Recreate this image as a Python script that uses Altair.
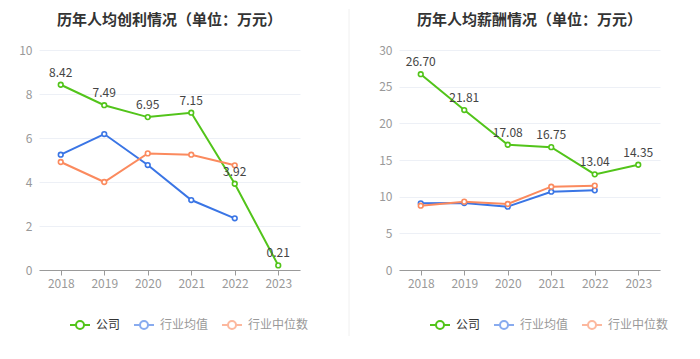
import altair as alt
import pandas as pd

years = ["2018", "2019", "2020", "2021", "2022", "2023"]
series_names = ["公司", "行业均值", "行业中位数"]
colors = ["#52c41a", "#3a75e5", "#fb8a5e"]

profit_company = [8.42, 7.49, 6.95, 7.15, 3.92, 0.21]
profit_mean = [5.24, 6.18, 4.77, 3.18, 2.35, None]
profit_median = [4.91, 4.00, 5.30, 5.24, 4.76, None]

salary_company = [26.70, 21.81, 17.08, 16.75, 13.04, 14.35]
salary_mean = [9.09, 9.13, 8.64, 10.68, 10.86, None]
salary_median = [8.77, 9.32, 9.00, 11.36, 11.50, None]

FONT = "Noto Sans CJK SC"


def long_df(comp, mean, med):
    rows = []
    for name, vals in zip(series_names, [comp, mean, med]):
        for y, v in zip(years, vals):
            if v is not None:
                rows.append({"year": y, "series": name, "value": v})
    return pd.DataFrame(rows)


SYMBOL = "M-1,0H-0.4M0.4,0H1M0.4,0A0.4,0.4,0,1,1,-0.4,0A0.4,0.4,0,1,1,0.4,0"


def panel(df, title, ymax, yvalues):
    x = alt.X(
        "year:O",
        scale=alt.Scale(type="point", domain=years, padding=0.5),
        axis=alt.Axis(
            title=None, labelAngle=0, domainColor="#9a9a9a", tickColor="#9a9a9a",
            tickSize=5, labelColor="#999999", labelFontSize=12, labelPadding=3,
            grid=False, labelFont=FONT,
        ),
    )
    y = alt.Y(
        "value:Q",
        scale=alt.Scale(domain=[0, ymax], nice=False),
        axis=alt.Axis(
            title=None, domain=False, ticks=False, values=yvalues,
            gridColor="#edf0f6", labelColor="#999999", labelFontSize=12,
            labelPadding=7, labelFont=FONT,
        ),
    )
    color = alt.Color(
        "series:N",
        scale=alt.Scale(domain=series_names, range=colors),
        sort=series_names,
        legend=alt.Legend(
            title=None, orient="none", direction="horizontal",
            legendX=30, legendY=264,
            symbolType=SYMBOL, symbolSize=400, symbolStrokeWidth=2,
            symbolFillColor="white",
            labelFontSize=12, labelFont=FONT, labelOffset=5, columnPadding=9,
            labelColor={"expr": "datum.value === '公司' ? '#333333' : '#999999'"},
            symbolOpacity={"expr": "datum.value === '公司' ? 1 : 0.6"},
        ),
    )
    base = alt.Chart(df)
    line = base.mark_line(strokeWidth=2).encode(x=x, y=y, color=color)
    pts = base.mark_point(shape="circle", filled=False, fill="white", size=22,
                          strokeWidth=1.6, opacity=1).encode(x=x, y=y, color=color)
    labels = base.transform_filter(alt.datum.series == "公司").mark_text(
        dy=-12, fontSize=12, color="#444444", font=FONT
    ).encode(x=x, y=y, text=alt.Text("value:Q", format=".2f"))
    return alt.layer(line, pts, labels).properties(
        width=261, height=220,
        title=alt.TitleParams(title, fontSize=15, fontWeight="bold", color="#333333",
                              font=FONT, anchor="middle", offset=16),
    )


left = panel(long_df(profit_company, profit_mean, profit_median),
             "历年人均创利情况（单位：万元）", 10, [0, 2, 4, 6, 8, 10])
right = panel(long_df(salary_company, salary_mean, salary_median),
              "历年人均薪酬情况（单位：万元）", 30, [0, 5, 10, 15, 20, 25, 30])

sep = alt.Chart(pd.DataFrame({"a": [0]})).mark_rule(color="#f0f0f0", strokeWidth=1).encode(
    x=alt.value(0), y=alt.value(-41), y2=alt.value(286)
).properties(width=1, height=220)

chart = alt.hconcat(left, sep, right, spacing=49, bounds="flush").resolve_scale(
    color="independent"
).resolve_legend(color="independent").properties(
    padding={"left": 10, "top": 0, "right": 0, "bottom": 0}
).configure(font=FONT).configure_view(stroke=None)

chart.save("out.html", embed_options={"renderer": "svg", "actions": False})
